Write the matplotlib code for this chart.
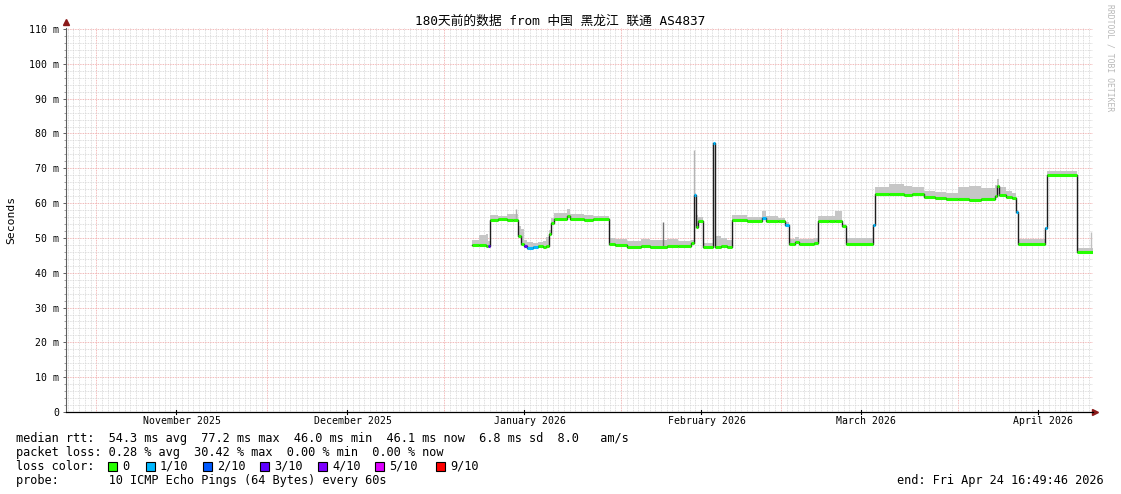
import numpy as np
import pandas as pd
import matplotlib
matplotlib.use('Agg')
import matplotlib.pyplot as plt
import matplotlib.dates as mdates
from matplotlib.patches import Rectangle
from matplotlib.ticker import MultipleLocator, FuncFormatter

W, H = 1121, 494
mono = ['DejaVu Sans Mono', 'Noto Sans CJK SC']

t_start = '2025-10-26 16:49:46'
t_end = '2026-04-24 16:49:46'

# median rtt (ms), held until the next time stamp; smoke = top of the ping spread
t_med = ['2026-01-05 19:00', '2026-01-07 00:00', '2026-01-08 06:00', '2026-01-08 18:00',
         '2026-01-09 00:00', '2026-01-10 12:00', '2026-01-12 00:00', '2026-01-13 00:00',
         '2026-01-13 22:00', '2026-01-14 10:00', '2026-01-15 00:00', '2026-01-15 12:00',
         '2026-01-16 12:00', '2026-01-17 12:00', '2026-01-18 06:00', '2026-01-18 18:00',
         '2026-01-19 08:00', '2026-01-19 18:00', '2026-01-20 06:00', '2026-01-22 12:00',
         '2026-01-23 00:00', '2026-01-25 12:00', '2026-01-27 00:00', '2026-01-29 22:00',
         '2026-01-31 00:00', '2026-02-02 00:00', '2026-02-04 12:00', '2026-02-06 00:00',
         '2026-02-09 00:00', '2026-02-11 00:00', '2026-02-13 05:00', '2026-02-13 19:00',
         '2026-02-14 04:00', '2026-02-14 12:00', '2026-02-15 09:00', '2026-02-17 02:00',
         '2026-02-17 10:00', '2026-02-18 12:00', '2026-02-19 12:00', '2026-02-20 10:00',
         '2026-02-23 00:00', '2026-02-25 16:00', '2026-02-26 08:00', '2026-02-28 12:00',
         '2026-03-01 18:00', '2026-03-02 10:00', '2026-03-03 12:00', '2026-03-04 06:00',
         '2026-03-06 18:00', '2026-03-07 12:00', '2026-03-09 12:00', '2026-03-10 12:00',
         '2026-03-11 18:00', '2026-03-12 10:00', '2026-03-17 02:00', '2026-03-17 12:00',
         '2026-03-20 00:00', '2026-03-22 12:00', '2026-03-24 00:00', '2026-03-26 00:00',
         '2026-03-28 00:00', '2026-03-30 00:00', '2026-04-01 00:00', '2026-04-03 00:00',
         '2026-04-05 00:00', '2026-04-07 12:00', '2026-04-07 20:00', '2026-04-08 04:00',
         '2026-04-09 12:00', '2026-04-10 12:00', '2026-04-11 06:00', '2026-04-11 12:00',
         '2026-04-16 06:00', '2026-04-16 14:00', '2026-04-21 22:00', '2026-04-24 16:49']
med = [47.9, 48.1, 47.8, 47.6,
       55.2, 55.3, 55.1, 55.2,
       50.5, 48.2, 47.6, 47.2,
       47.4, 47.6, 47.3, 47.6,
       51.0, 54.4, 55.4, 56.4,
       55.4, 55.2, 55.3, 48.2,
       47.9, 47.5, 47.6, 47.5,
       47.7, 47.8, 48.5, 62.3,
       53.1, 54.8, 47.4, 77.2,
       47.4, 47.6, 47.4, 55.1,
       55.0, 55.6, 55.0, 54.8,
       53.6, 48.3, 48.7, 48.3,
       48.6, 54.8, 55.0, 54.9,
       53.3, 48.2, 53.7, 62.5,
       62.6, 62.4, 62.5, 61.7,
       61.4, 61.2, 61.1, 61.0,
       61.3, 62.0, 64.8, 62.2,
       61.8, 61.5, 57.5, 48.2,
       52.8, 68.2, 46.1, 46.1]
smoke = [49.5, 50.8, 51.0, 49.0,
         56.6, 56.2, 56.8, 57.0,
         53.5, 52.5, 49.5, 48.8,
         48.6, 48.8, 49.0, 50.2,
         52.2, 55.6, 57.2, 58.2,
         57.0, 56.6, 56.4, 50.0,
         49.6, 49.2, 49.6, 49.3,
         49.6, 49.2, 49.5, 63.0,
         56.5, 56.0, 48.5, 77.2,
         50.6, 50.0, 49.5, 56.6,
         56.0, 57.8, 56.4, 55.8,
         54.5, 49.8, 50.2, 49.8,
         50.0, 56.2, 56.4, 57.6,
         54.0, 50.0, 54.0, 64.5,
         65.5, 65.0, 64.6, 63.6,
         63.2, 63.0, 64.5, 64.8,
         64.2, 65.2, 67.0, 64.5,
         63.6, 62.8, 58.0, 49.7,
         53.0, 69.2, 47.0, 47.0]
loss = [0, 0, 0, 3,
        0, 0, 0, 0,
        0, 0, 3, 1,
        1, 0, 0, 0,
        0, 0, 0, 0,
        0, 0, 0, 0,
        0, 0, 0, 0,
        0, 0, 0, 1,
        0, 0, 0, 1,
        0, 0, 0, 0,
        0, 1, 0, 0,
        1, 0, 0, 0,
        0, 0, 0, 0,
        0, 0, 1, 0,
        0, 0, 0, 0,
        0, 0, 0, 0,
        0, 0, 0, 0,
        0, 0, 1, 0,
        1, 0, 0, 0]

# single pings far above the median
spike_t = ['2026-01-13 12:00', '2026-02-08 08:00', '2026-02-13 19:00', '2026-04-24 08:00']
spike_base = [55.2, 47.7, 62.3, 46.1]
spike_top = [58.2, 54.6, 75.2, 51.8]
spike_col = ['#b0b0b0', '#707070', '#b4b4b4', '#c0c0c0']

loss_labels = ['0', '1/10', '2/10', '3/10', '4/10', '5/10', '9/10']
loss_colors = ['#26ff00', '#00b8ff', '#0059ff', '#5e00ff', '#7e00ff', '#dd00ff', '#ff0000']

def dnum(s):
    return mdates.date2num(pd.to_datetime(s).to_pydatetime())

x = np.array([dnum(s) for s in t_med])
med = np.array(med)
smoke = np.array(smoke)

fig = plt.figure(figsize=(W / 100, H / 100), dpi=100)
ax = fig.add_axes([66 / W, (H - 412) / H, (1093 - 66) / W, (412 - 28) / H])
ax.set_xlim(dnum(t_start), dnum(t_end))
ax.set_ylim(0, 110.3)

# grid
ax.set_axisbelow(True)
ax.xaxis.set_major_locator(mdates.MonthLocator(bymonthday=1))
ax.xaxis.set_minor_locator(mdates.DayLocator())
ax.yaxis.set_major_locator(MultipleLocator(10))
ax.yaxis.set_minor_locator(MultipleLocator(2))
ax.grid(which='minor', color='#d4d4d4', ls=(0, (1, 1)), lw=0.6)
ax.grid(which='major', color='#eea0a0', ls=(0, (1, 1)), lw=0.6)
ax.tick_params(axis='x', which='both', length=0, labelbottom=False)
ax.tick_params(axis='y', which='major', length=2.5, width=0.7, color='#606060',
               labelsize=7.1, pad=2.5)
ax.tick_params(axis='y', which='minor', length=1.5, width=0.6, color='#909090')
ax.yaxis.set_major_formatter(FuncFormatter(lambda v, p: f'{int(v)} m' if v else '0'))
for lab in ax.get_yticklabels():
    lab.set_family(mono)

for s in ['top', 'right']:
    ax.spines[s].set_visible(False)
ax.spines['left'].set_color('#606060')
ax.spines['bottom'].set_color('#000000')
ax.spines['left'].set_linewidth(0.8)
ax.spines['bottom'].set_linewidth(0.9)
ax.plot([0], [1 + 6 / 384], marker='^', ms=4, color='#8b1a1a', transform=ax.transAxes, clip_on=False)
ax.plot([1 + 2 / 1027], [0], marker='>', ms=4, color='#8b1a1a', transform=ax.transAxes, clip_on=False)

# month labels, centred mid-month
for m in pd.date_range('2025-11-01', '2026-04-01', freq='MS') + pd.Timedelta(days=15):
    ax.text(dnum(m), -9 / 384, m.strftime('%B %Y'), transform=ax.get_xaxis_transform(),
            ha='center', va='center', fontsize=7.1, family=mono)
    ax.plot([dnum(m - pd.Timedelta(days=1))] * 2, [-2 / 384, 2 / 384], color='#000000', lw=0.8,
            transform=ax.get_xaxis_transform(), clip_on=False)

# smoke
ax.fill_between(x, med, smoke, step='post', color='#c6c6c6', lw=0)
ax.vlines([dnum(s) for s in spike_t], spike_base, spike_top, colors=spike_col, lw=1)

# median line and loss colours
ax.step(x, med, where='post', color='#1e1e1e', lw=1.0)
for i in range(len(x) - 1):
    ax.hlines(med[i], x[i], x[i + 1], color=loss_colors[loss[i]], lw=2.2)

ax.set_ylabel('Seconds', fontsize=8.2, family=mono)
ax.yaxis.set_label_coords(-50 / 1027, 0.5)

fig.text(0.5, 1 - 21 / H, '180天前的数据 from 中国 黑龙江 联通 AS4837', ha='center', va='center',
         fontsize=9.2, family=mono)
fig.text(1110 / W, 1 - 4 / H, 'RRDTOOL / TOBI OETIKER', rotation=270, ha='center', va='top',
         fontsize=5.8, color='#b8b8b8', family=mono)

lines = ['median rtt:  54.3 ms avg  77.2 ms max  46.0 ms min  46.1 ms now  6.8 ms sd  8.0   am/s',
         'packet loss: 0.28 % avg  30.42 % max  0.00 % min  0.00 % now',
         'loss color:',
         'probe:       10 ICMP Echo Pings (64 Bytes) every 60s']
for k, ln in enumerate(lines):
    fig.text(16 / W, 1 - (438 + 14 * k) / H, ln, ha='left', va='center', fontsize=8.55, family=mono)
fig.text(1104 / W, 1 - 480 / H, 'end: Fri Apr 24 16:49:46 2026', ha='right', va='center',
         fontsize=8.55, family=mono)

box_x = [108, 146, 203, 260, 318, 375, 436]
for bx, lab, col in zip(box_x, loss_labels, loss_colors):
    fig.add_artist(Rectangle((bx / W, 1 - 470.5 / H), 9 / W, 9 / H, transform=fig.transFigure,
                             facecolor=col, edgecolor='#000000', lw=0.8))
    fig.text((bx + 14) / W, 1 - 466 / H, lab, ha='left', va='center', fontsize=8.55, family=mono)

fig.savefig('out.png', dpi=100)
